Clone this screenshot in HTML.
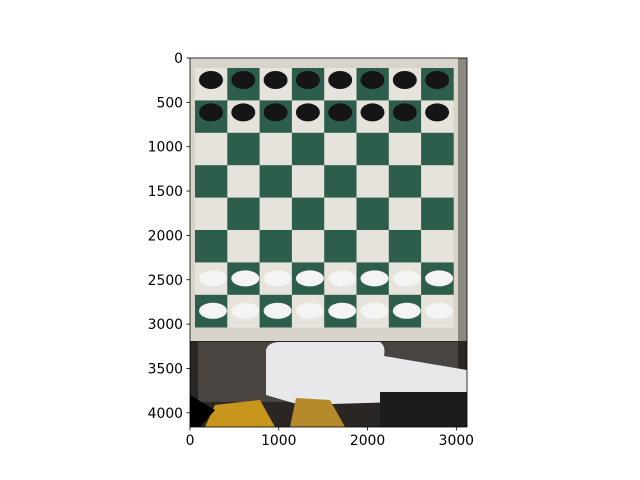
<!DOCTYPE html>
<html><head><meta charset="utf-8"><style>
body{margin:0;background:#fff}
svg{display:block;font-family:"DejaVu Sans","Liberation Sans",sans-serif}
</style></head><body>
<svg id="chart" width="640" height="480" viewBox="0 0 640 480">
<defs><clipPath id="imgclip"><rect x="190" y="58" width="277" height="369"/></clipPath></defs>
<g id="img" clip-path="url(#imgclip)">
  <rect x="190" y="58" width="277" height="369" fill="#2a2624"/>
  <rect x="190" y="58" width="268" height="283" fill="#d9d4cb"/>
  <rect x="458" y="58" width="9" height="283" fill="#8b8882"/>
  <g id="squares"></g>
  <g id="pieces"></g>
  <rect x="198" y="342" width="260" height="60" fill="#4a4440"/>
  <path d="M266 350 Q268 342 280 342 L380 342 Q386 346 384 356 L467 370 L467 400 L300 405 L266 395 Z" fill="#e8e7ea"/>
  <rect x="380" y="392" width="87" height="35" fill="#1c1c1c"/>
  <path d="M215 405 L260 400 L275 427 L205 427 Z" fill="#c8961c"/>
  <path d="M190 395 L215 410 L200 427 L190 427 Z" fill="#000"/>
  <path d="M296 398 L330 400 L345 427 L290 427 Z" fill="#b48a2a"/>
</g>
<rect x="190" y="58" width="277" height="369" fill="none" stroke="#000" stroke-width="0.8"/>
<g id="xaxis"></g>
<g id="yaxis"></g>
</svg>
<script>
const xTicks=[0,1000,2000,3000];
const yTicks=[0,500,1000,1500,2000,2500,3000,3500,4000];
const imgWidth=[3120];
const imgHeight=[4160];
const blackRows=[0,1];
const whiteRows=[6,7];
const NS="http://www.w3.org/2000/svg";
const X0=190,Y0=58,S=277/imgWidth[0];
const sx=v=>X0+v*S, sy=v=>Y0+v*(369/imgHeight[0]);
function mk(t,a,p){const e=document.createElementNS(NS,t);for(const k in a)e.setAttribute(k,a[k]);p.appendChild(e);return e;}
const sq=document.getElementById('squares');
const bx=195,by=68,cw=32.3,ch=32.4;
for(let r=0;r<8;r++)for(let c=0;c<8;c++){
  const e=mk('rect',{x:bx+c*cw,y:by+r*ch,width:cw+0.3,height:ch+0.3,fill:((r+c)%2)?'#2d5e4c':'#e6e2dc'},sq);
  
  
}
const pc=document.getElementById('pieces');
blackRows.forEach(r=>{for(let c=0;c<8;c++){
  const e=mk('ellipse',{cx:bx+c*cw+16,cy:by+r*ch+12,rx:12,ry:9,fill:'#151515'},pc);
  
  
}});
whiteRows.forEach(r=>{for(let c=0;c<8;c++){
  const e=mk('ellipse',{cx:bx+c*cw+18,cy:by+r*ch+16,rx:14,ry:8,fill:'#f4f4f2'},pc);
  
  
}});
const xa=document.getElementById('xaxis');
xTicks.forEach(v=>{
  const x=sx(v);
  const l=mk('line',{x1:x,y1:427,x2:x,y2:430.5,stroke:'#000','stroke-width':0.8},xa);
  
  
  const t=mk('text',{x:x,y:445,'font-size':13.9,'text-anchor':'middle'},xa);
  t.textContent=v;
  
  
});
const ya=document.getElementById('yaxis');
yTicks.forEach(v=>{
  const y=sy(v);
  const l=mk('line',{x1:186.5,y1:y,x2:190,y2:y,stroke:'#000','stroke-width':0.8},ya);
  
  
  const t=mk('text',{x:183,y:y+5,'font-size':13.9,'text-anchor':'end'},ya);
  t.textContent=v;
  
  
});
</script>
</body></html>
